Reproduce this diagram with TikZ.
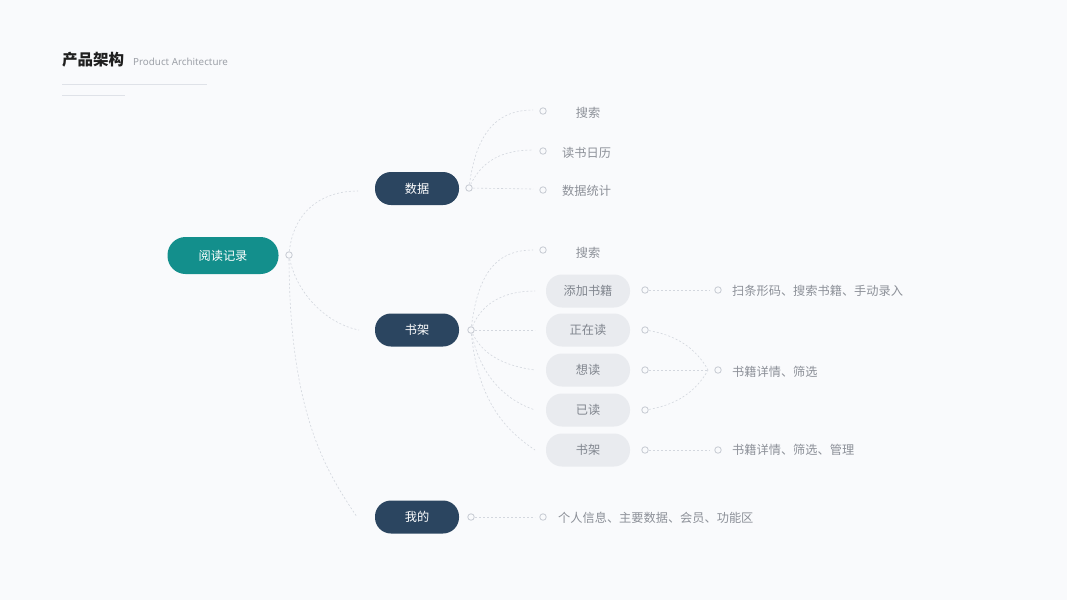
\documentclass[tikz,border=0pt]{standalone}
\usepackage{fontspec}
\setmainfont{Noto Sans}
\newfontfamily\cjk{Noto Sans CJK SC}
\newfontfamily\latinlight{Noto Sans}
\usetikzlibrary{calc}
\definecolor{bgc}{HTML}{F9FAFC}
\definecolor{teal1}{HTML}{138F8C}
\definecolor{navy}{HTML}{2B4560}
\definecolor{pillg}{HTML}{E9EBEF}
\definecolor{txtg}{HTML}{8C9098}
\definecolor{pilltxt}{HTML}{80858E}
\definecolor{linec}{HTML}{D3D7DE}
\definecolor{dotc}{HTML}{C6CAD2}
\definecolor{rulec}{HTML}{DFE2E8}
\pgfdeclarelayer{bottom}
\pgfdeclarelayer{lines}
\pgfsetlayers{bottom,lines,main}
\tikzset{
  rootbox/.style={fill=teal1, text=white, rounded corners=18pt, minimum width=111pt, minimum height=37pt, inner sep=0pt, font=\cjk\fontsize{12.2}{14}\selectfont},
  mainbox/.style={fill=navy, text=white, rounded corners=16pt, minimum width=84pt, minimum height=33pt, inner sep=0pt, font=\cjk\fontsize{12.2}{14}\selectfont},
  subbox/.style={fill=pillg, text=pilltxt, rounded corners=16pt, minimum width=84pt, minimum height=33pt, inner sep=0pt, font=\cjk\fontsize{12.2}{14}\selectfont},
  leaf/.style={text=txtg, inner sep=0pt, font=\cjk\fontsize{12.2}{14}\selectfont},
  leafl/.style={leaf, anchor=west},
  dotn/.style={circle, draw=dotc, fill=bgc, line width=0.8pt, minimum size=6.5pt, inner sep=0pt},
  conn/.style={draw=linec, line width=0.6pt, dash pattern=on 2pt off 2pt},
}
\begin{document}
\begin{tikzpicture}[x=1pt,y=-1pt]
\begin{pgfonlayer}{bottom}
\fill[bgc] (0,0) rectangle (1067,600);
\end{pgfonlayer}
\useasboundingbox (0,0) rectangle (1067,600);

% title
\node[anchor=west, inner sep=0pt, font=\cjk\bfseries\fontsize{15.5}{17}\selectfont, text=black!88] (title) at (62,60) {产品架构};
\node[anchor=west, inner sep=0pt, font=\latinlight\fontsize{9.8}{11}\selectfont, text=txtg!85] (subtitle) at (133,62) {Product Architecture};
\draw[rulec, line width=0.7pt] (62,84) -- (207,84);
\draw[rulec, line width=0.7pt] (62,95) -- (125,95);

% main nodes
\node[rootbox] (root) at (223,255.5) {阅读记录};
\node[dotn] (rdot) at (289,255) {};
\node[mainbox] (shuju) at (417,188.5) {数据};
\node[dotn] (sdot) at (469,188) {};
\node[mainbox] (shujia) at (417,330) {书架};
\node[dotn] (jdot) at (471,330) {};
\node[mainbox] (wode) at (417,517) {我的};
\node[dotn] (wdot) at (471,517) {};

\coordinate (shujuin) at (358,191);
\coordinate (shujiain) at (359,330);
\coordinate (wodein) at (357,517);

% 数据 children
\node[dotn] (d1dot) at (543,111) {};
\node[leaf] (d1) at (588,112.5) {搜索};
\node[dotn] (d2dot) at (543,151) {};
\node[leafl] (d2) at (562,152.5) {读书日历};
\node[dotn] (d3dot) at (543,190) {};
\node[leafl] (d3) at (562,191) {数据统计};
\coordinate (d1in) at (533,110);
\coordinate (d2in) at (533,150);
\coordinate (d3in) at (533,189);

% 书架 children
\node[dotn] (j1dot) at (543,250) {};
\node[leaf] (j1) at (588,252.5) {搜索};
\node[subbox] (j2) at (588,291) {添加书籍};
\node[subbox] (j3) at (588,330) {正在读};
\node[subbox] (j4) at (588,370) {想读};
\node[subbox] (j5) at (588,410) {已读};
\node[subbox] (j6) at (588,450) {书架};
\coordinate (j1in) at (533,250);
\coordinate (j2in) at (535,291);
\coordinate (j3in) at (535,330);
\coordinate (j4in) at (535,370);
\coordinate (j5in) at (535,410);
\coordinate (j6in) at (535,450);

\node[dotn] (j2dot) at (645,290) {};
\node[dotn] (j3dot) at (645,330) {};
\node[dotn] (j4dot) at (645,370) {};
\node[dotn] (j5dot) at (645,410) {};
\node[dotn] (j6dot) at (645,450) {};

\node[dotn] (k1dot) at (718,290) {};
\node[leafl] (k1) at (732,290.5) {扫条形码、搜索书籍、手动录入};
\node[dotn] (k2dot) at (718,370) {};
\node[leafl] (k2) at (732,372) {书籍详情、筛选};
\node[dotn] (k3dot) at (718,450) {};
\node[leafl] (k3) at (732,449.5) {书籍详情、筛选、管理};
\coordinate (k1in) at (710,290);
\coordinate (k2in) at (708,370);
\coordinate (k3in) at (710,450);

% 我的 child
\node[dotn] (w1dot) at (543,517) {};
\node[leafl] (w1) at (558,517.5) {个人信息、主要数据、会员、功能区};
\coordinate (w1in) at (535,517);

\begin{pgfonlayer}{lines}
\draw[conn] (rdot.center) .. controls +(3,-42) and +(-38,0) .. (shujuin);
\draw[conn] (rdot.center) .. controls +(6,38) and +(-32,-6) .. (shujiain);
\draw[conn] (rdot.center) .. controls +(0,160) and +(-30,-45) .. (wodein);

\draw[conn] (sdot.center) .. controls +(6,-50) and +(-40,0) .. (d1in);
\draw[conn] (sdot.center) .. controls +(12,-28) and +(-30,0) .. (d2in);
\draw[conn] (sdot.center) -- (d3in);

\draw[conn] (jdot.center) .. controls +(6,-52) and +(-40,0) .. (j1in);
\draw[conn] (jdot.center) .. controls +(10,-28) and +(-30,0) .. (j2in);
\draw[conn] (jdot.center) -- (j3in);
\draw[conn] (jdot.center) .. controls +(10,25) and +(-30,-4) .. (j4in);
\draw[conn] (jdot.center) .. controls +(8,45) and +(-30,-10) .. (j5in);
\draw[conn] (jdot.center) .. controls +(6,70) and +(-30,-20) .. (j6in);

\draw[conn] (j2dot.center) -- (k1in);
\draw[conn] (j3dot.center) .. controls +(30,4) and +(-12,-22) .. (k2in);
\draw[conn] (j4dot.center) -- (k2in);
\draw[conn] (j5dot.center) .. controls +(30,-4) and +(-12,22) .. (k2in);
\draw[conn] (j6dot.center) -- (k3in);

\draw[conn] (wdot.center) -- (w1in);
\end{pgfonlayer}
\end{tikzpicture}
\end{document}
